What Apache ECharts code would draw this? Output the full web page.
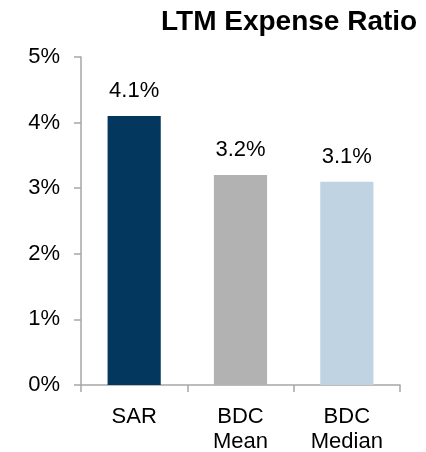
<!DOCTYPE html>
<html>
<head>
<meta charset="utf-8">
<script src="https://cdn.jsdelivr.net/npm/echarts@6/dist/echarts.min.js"></script>
<style>
  html, body { margin: 0; padding: 0; background: #fff; }
  #chart { width: 426px; height: 452px; }
</style>
</head>
<body>
<div id="chart"></div>
<script>
var categories = ['SAR', 'BDC\nMean', 'BDC\nMedian']
var ratios = [4.1, 3.2, 3.1]
var barColors = ['#04375e', '#b2b2b2', '#bfd3e2']
var yTicks = [0, 1, 2, 3, 4, 5]

var myChart = echarts.init(document.getElementById('chart'))
var font = 'Liberation Sans, Arial, sans-serif'

myChart.setOption({
    animation: false,
    title: {
        text: 'LTM Expense Ratio',
        left: 156,
        top: 3,
        textStyle: {
            fontFamily: font,
            fontSize: 28,
            fontWeight: 'bold',
            color: '#000'
        }
    },
    grid: {
        left: 81,
        right: 26,
        top: 57,
        bottom: 67,
        containLabel: false,
        outerBoundsMode: 'none'
    },
    xAxis: {
        type: 'category',
        data: categories,
        axisLine: {lineStyle: {color: '#a6a6a6', width: 1.5}},
        axisTick: {show: true, length: 7, lineStyle: {color: '#a6a6a6', width: 1.5}},
        axisLabel: {
            margin: 19,
            fontFamily: font,
            fontSize: 22,
            lineHeight: 25,
            color: '#000'
        }
    },
    yAxis: {
        type: 'value',
        min: yTicks[0],
        max: yTicks[yTicks.length - 1],
        interval: 1,
        axisLine: {show: true, lineStyle: {color: '#a6a6a6', width: 1.5}},
        axisTick: {show: true, length: 7, lineStyle: {color: '#a6a6a6', width: 1.5}},
        splitLine: {show: false},
        axisLabel: {
            margin: 21,
            fontFamily: font,
            fontSize: 22,
            color: '#000',
            formatter: function (v) {
                return v + '%'
            }
        }
    },
    series: [{
        type: 'bar',
        barWidth: '50%',
        data: ratios.map(function (v, i) {
            return {value: v, itemStyle: {color: barColors[i]}}
        }),
        label: {
            show: true,
            position: 'top',
            distance: 14,
            fontFamily: font,
            fontSize: 22,
            color: '#000',
            formatter: function (p) {
                return p.value.toFixed(1) + '%'
            }
        }
    }]
})
</script>
</body>
</html>
